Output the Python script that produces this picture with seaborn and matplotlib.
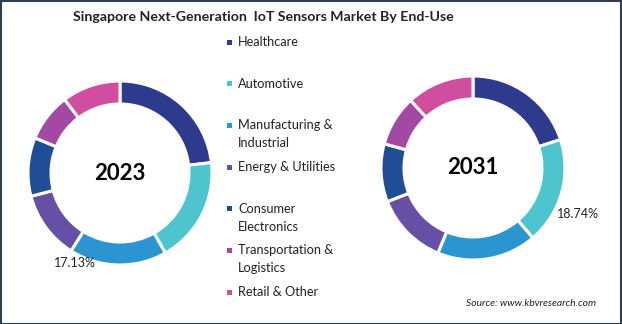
import matplotlib
matplotlib.use("Agg")
import matplotlib.pyplot as plt
import seaborn as sns
from matplotlib.patches import Rectangle

sns.set_theme(style="white")
plt.rcParams['font.family'] = ['Lato', 'DejaVu Sans']

categories = ["Healthcare", "Automotive", "Manufacturing &\nIndustrial", "Energy & Utilities",
              "Consumer\nElectronics", "Transportation &\nLogistics", "Retail & Other"]
share_2023 = [23.2, 18.6, 17.13, 12.0, 10.3, 8.5, 10.27]
share_2031 = [20.0, 18.74, 17.5, 12.8, 10.2, 8.9, 11.86]
years = ["2023", "2031"]
colors = sns.color_palette(["#2E3A8E", "#4EC4CF", "#2B95D1", "#6550A5", "#1F4E97", "#A448A6", "#D04DA0"])

W, H = 622, 324
fig = plt.figure(figsize=(W / 100, H / 100), dpi=100)

def px_ax(cx, cy, r):
    return fig.add_axes([(cx - r) / W, (H - cy - r) / H, 2 * r / W, 2 * r / H])

def fx(x):
    return x / W

def fy(y):
    return 1 - y / H

R = 92
centers = [(120, 173), (473, 168)]
for vals, yr, (cx, cy) in zip([share_2023, share_2031], years, centers):
    ax = px_ax(cx, cy, R)
    ax.pie(vals, colors=colors, startangle=90, counterclock=False, radius=1,
           wedgeprops=dict(width=0.25, edgecolor="white", linewidth=2.2))
    ax.set_xlim(-1, 1)
    ax.set_ylim(-1, 1)
    ax.set_aspect("auto")
    ax.axis("off")
    ax.text(0, 0, yr, ha="center", va="center", fontsize=16, fontweight="bold", color="black")

# data labels
fig.text(fx(75), fy(263), f"{share_2023[2]:.2f}%", ha="center", va="center", fontsize=9, color="#222222")
fig.text(fx(578), fy(214), f"{share_2031[1]:.2f}%", ha="center", va="center", fontsize=9, color="#222222")

# title
fig.text(fx(263), fy(17), "Singapore Next-Generation  IoT Sensors Market By End-Use",
         ha="center", va="center", fontsize=10.2, fontweight="bold", color="#222222")

# legend
for i, (lab, c) in enumerate(zip(categories, colors)):
    y0 = 42 + 41.7 * i
    fig.patches.append(Rectangle((fx(227), fy(y0 + 2.6)), 5 / W, 5 / H,
                                 transform=fig.transFigure, facecolor=c, edgecolor="none"))
    for j, line in enumerate(lab.split("\n")):
        fig.text(fx(238), fy(y0 + 18 * j), line, ha="left", va="center",
                 fontsize=9.2, color="#222222")

# source
fig.text(fx(596), fy(304), "Source: www.kbvresearch.com", ha="right", va="center",
         fontsize=7.4, style="italic", color="#222222")

# frame
fig.patches.append(Rectangle((0.5 / W, 0.5 / H), 1 - 1.5 / W, 1 - 1.5 / H, transform=fig.transFigure,
                             facecolor="none", edgecolor="#2F3E4C", linewidth=1.5))

fig.savefig("out.png", dpi=100)
